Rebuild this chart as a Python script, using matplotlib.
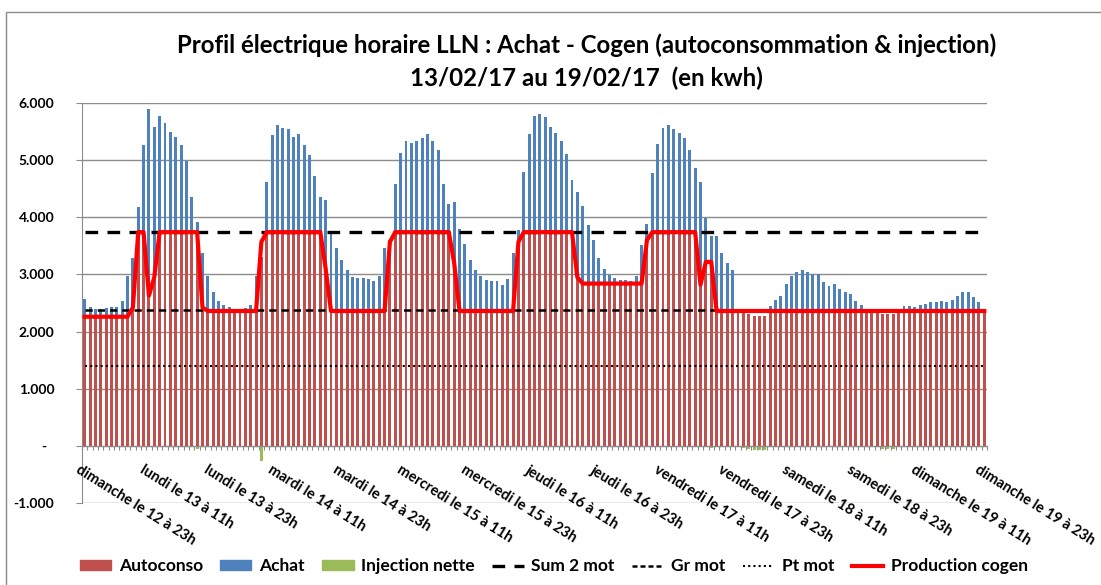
import matplotlib
matplotlib.use("Agg")
import matplotlib.pyplot as plt
from matplotlib.patches import Patch, Rectangle
from matplotlib.lines import Line2D

plt.rcParams["font.family"] = ["Lato", "DejaVu Sans"]

# hourly categories: dimanche 12 23h -> dimanche 19 23h (169 hours)
HOURS = list(range(169))
TICK_LABELS = [
    "dimanche le 12 à 23h", "lundi le 13 à 11h", "lundi le 13 à 23h",
    "mardi le 14 à 11h", "mardi le 14 à 23h", "mercredi le 15 à 11h",
    "mercredi le 15 à 23h", "jeudi le 16 à 11h", "jeudi le 16 à 23h",
    "vendredi le 17 à 11h", "vendredi le 17 à 23h", "samedi le 18 à 11h",
    "samedi le 18 à 23h", "dimanche le 19 à 11h", "dimanche le 19 à 23h",
]
YTICK_LABELS = ["-1.000", "-\u2002", "1.000", "2.000", "3.000", "4.000", "5.000", "6.000"]

AUTOCONSO = [
    2.26, 2.26, 2.26, 2.26, 2.26, 2.26, 2.26, 2.26, 2.26, 2.42, 3.74, 3.74,
    2.63, 2.95, 3.74, 3.74, 3.74, 3.74, 3.74, 3.74, 3.74, 3.74, 2.42, 2.36,
    2.36, 2.36, 2.36, 2.36, 2.36, 2.36, 2.36, 2.36, 2.36, 3.30, 3.74, 3.74,
    3.74, 3.74, 3.74, 3.74, 3.74, 3.74, 3.74, 3.74, 3.74, 3.10, 2.36, 2.36,
    2.36, 2.36, 2.36, 2.36, 2.36, 2.36, 2.36, 2.36, 2.36, 3.57, 3.74, 3.74,
    3.74, 3.74, 3.74, 3.74, 3.74, 3.74, 3.74, 3.74, 3.74, 3.20, 2.36, 2.36,
    2.36, 2.36, 2.36, 2.36, 2.36, 2.36, 2.36, 2.36, 2.36, 3.57, 3.74, 3.74,
    3.74, 3.74, 3.74, 3.74, 3.74, 3.74, 3.74, 3.74, 2.95, 2.84, 2.84, 2.84,
    2.84, 2.84, 2.84, 2.84, 2.84, 2.84, 2.84, 2.84, 2.84, 3.60, 3.74, 3.74,
    3.74, 3.74, 3.74, 3.74, 3.74, 3.74, 3.74, 2.82, 3.22, 3.22, 2.36, 2.36,
    2.36, 2.36, 2.36, 2.33, 2.30, 2.28, 2.28, 2.28, 2.36, 2.36, 2.36, 2.36,
    2.36, 2.36, 2.36, 2.36, 2.36, 2.36, 2.36, 2.36, 2.36, 2.36, 2.36, 2.36,
    2.36, 2.36, 2.36, 2.35, 2.34, 2.30, 2.30, 2.30, 2.36, 2.36, 2.36, 2.36,
    2.36, 2.36, 2.36, 2.36, 2.36, 2.36, 2.36, 2.36, 2.36, 2.36, 2.36, 2.36,
    2.36,
]
ACHAT = [
    0.31, 0.17, 0.14, 0.14, 0.15, 0.17, 0.17, 0.27, 0.71, 0.86, 0.44, 1.53,
    3.26, 2.63, 2.03, 1.91, 1.75, 1.66, 1.53, 1.25, 0.61, 0.18, 0.95, 0.61,
    0.34, 0.18, 0.11, 0.07, 0.04, 0.04, 0.05, 0.11, 0.61, 0.00, 0.87, 1.70,
    1.88, 1.82, 1.81, 1.67, 1.72, 1.53, 1.35, 0.98, 0.62, 1.20, 1.36, 1.11,
    0.89, 0.71, 0.59, 0.58, 0.58, 0.56, 0.52, 0.61, 1.10, 0.03, 0.84, 1.39,
    1.60, 1.56, 1.60, 1.64, 1.72, 1.59, 1.44, 0.84, 0.50, 1.06, 1.44, 1.17,
    0.89, 0.72, 0.61, 0.55, 0.52, 0.52, 0.46, 0.56, 1.02, 0.20, 1.05, 1.72,
    2.03, 2.07, 2.01, 1.84, 1.73, 1.60, 1.36, 0.92, 1.50, 1.36, 1.03, 0.77,
    0.45, 0.26, 0.15, 0.10, 0.06, 0.06, 0.04, 0.13, 0.68, 0.29, 1.04, 1.55,
    1.82, 1.87, 1.80, 1.74, 1.64, 1.44, 1.12, 1.79, 0.77, 0.45, 1.31, 1.02,
    0.84, 0.71, 0.04, 0.00, 0.00, 0.00, 0.00, 0.00, 0.08, 0.19, 0.27, 0.47,
    0.61, 0.69, 0.71, 0.68, 0.65, 0.64, 0.51, 0.43, 0.47, 0.39, 0.34, 0.29,
    0.17, 0.10, 0.04, 0.00, 0.00, 0.00, 0.00, 0.00, 0.04, 0.08, 0.09, 0.07,
    0.10, 0.13, 0.15, 0.15, 0.17, 0.15, 0.20, 0.26, 0.33, 0.33, 0.25, 0.16,
    0.04,
]
INJECTION = [
    0, 0, 0, 0, 0, 0, 0, 0, 0, 0, 0, 0,
    0, 0, 0, 0, 0, 0, 0, 0, 0, -0.06, 0, 0,
    0, 0, 0, 0, 0, 0, 0, 0, 0, -0.27, 0, 0,
    0, 0, 0, 0, 0, 0, 0, 0, 0, 0, 0, 0,
    0, 0, 0, 0, 0, 0, 0, 0, 0, 0, 0, 0,
    0, 0, 0, 0, 0, 0, 0, 0, 0, 0, 0, 0,
    0, 0, 0, 0, 0, 0, 0, 0, 0, 0, 0, 0,
    0, 0, 0, 0, 0, 0, 0, 0, 0, 0, 0, 0,
    0, 0, 0, 0, 0, 0, 0, 0, 0, 0, 0, 0,
    0, 0, 0, 0, 0, 0, 0, 0, 0, -0.03, 0, 0,
    0, 0, 0, -0.03, -0.06, -0.08, -0.08, -0.08, 0, 0, 0, 0,
    0, 0, 0, 0, 0, 0, 0, 0, 0, 0, 0, 0,
    0, 0, 0, -0.01, -0.02, -0.06, -0.06, -0.06, 0, 0, 0, 0,
    0, 0, 0, 0, 0, 0, 0, 0, 0, 0, 0, 0,
    0,
]
PRODUCTION_COGEN = [
    2.26, 2.26, 2.26, 2.26, 2.26, 2.26, 2.26, 2.26, 2.26, 2.42, 3.74, 3.74,
    2.63, 2.95, 3.74, 3.74, 3.74, 3.74, 3.74, 3.74, 3.74, 3.74, 2.42, 2.36,
    2.36, 2.36, 2.36, 2.36, 2.36, 2.36, 2.36, 2.36, 2.36, 3.57, 3.74, 3.74,
    3.74, 3.74, 3.74, 3.74, 3.74, 3.74, 3.74, 3.74, 3.74, 3.10, 2.36, 2.36,
    2.36, 2.36, 2.36, 2.36, 2.36, 2.36, 2.36, 2.36, 2.36, 3.57, 3.74, 3.74,
    3.74, 3.74, 3.74, 3.74, 3.74, 3.74, 3.74, 3.74, 3.74, 3.20, 2.36, 2.36,
    2.36, 2.36, 2.36, 2.36, 2.36, 2.36, 2.36, 2.36, 2.36, 3.57, 3.74, 3.74,
    3.74, 3.74, 3.74, 3.74, 3.74, 3.74, 3.74, 3.74, 2.95, 2.84, 2.84, 2.84,
    2.84, 2.84, 2.84, 2.84, 2.84, 2.84, 2.84, 2.84, 2.84, 3.60, 3.74, 3.74,
    3.74, 3.74, 3.74, 3.74, 3.74, 3.74, 3.74, 2.82, 3.22, 3.22, 2.36, 2.36,
    2.36, 2.36, 2.36, 2.36, 2.36, 2.36, 2.36, 2.36, 2.36, 2.36, 2.36, 2.36,
    2.36, 2.36, 2.36, 2.36, 2.36, 2.36, 2.36, 2.36, 2.36, 2.36, 2.36, 2.36,
    2.36, 2.36, 2.36, 2.36, 2.36, 2.36, 2.36, 2.36, 2.36, 2.36, 2.36, 2.36,
    2.36, 2.36, 2.36, 2.36, 2.36, 2.36, 2.36, 2.36, 2.36, 2.36, 2.36, 2.36,
    2.36,
]
SUM_2_MOT = 3.735
GR_MOT = 2.37
PT_MOT = 1.40

RED, BLUE, GREEN = "#C0504D", "#4F81BD", "#9BBB59"
GRID = "#8C8C8C"

fig = plt.figure(figsize=(11.01, 5.85), dpi=100)
ax = fig.add_axes([82 / 1101, 1 - 503 / 585, 905 / 1101, 400 / 585])

ax.bar(HOURS, AUTOCONSO, width=0.55, color=RED, zorder=2)
ax.bar(HOURS, ACHAT, width=0.55, bottom=AUTOCONSO, color=BLUE, zorder=2)
ax.bar(HOURS, INJECTION, width=0.55, color=GREEN, zorder=2)

n = len(HOURS)
ax.plot(HOURS, [SUM_2_MOT] * n, color="black", lw=2.4, ls=(0, (3.8, 2.8)), zorder=3)
ax.plot(HOURS, [GR_MOT] * n, color="black", lw=1.8, ls=(0, (2.9, 2.0)), zorder=3)
ax.plot(HOURS, [PT_MOT] * n, color="black", lw=1.5, ls=(0, (1, 1.5)), zorder=3)
ax.plot(HOURS, PRODUCTION_COGEN, color="#FF0000", lw=3, zorder=4, solid_joinstyle="round")

ax.set_xlim(-0.5, n - 0.5)
ax.set_ylim(-1, 6)
ax.set_yticks(range(-1, 7))
ax.set_yticklabels(YTICK_LABELS, fontsize=10, fontweight="bold")
ax.yaxis.grid(True, color=GRID, lw=1)
ax.set_axisbelow(True)

for s in ("top", "right"):
    ax.spines[s].set_visible(False)
ax.spines["left"].set_color(GRID)
ax.spines["bottom"].set_position(("data", 0))
ax.spines["bottom"].set_color(GRID)
ax.set_xticks([h - 0.5 for h in HOURS] + [n - 0.5])
ax.set_xticklabels([])
ax.tick_params(axis="x", length=3, color=GRID)
ax.tick_params(axis="y", length=4, color=GRID, pad=16)

for k, lab in enumerate(TICK_LABELS):
    ax.text(12 * k - 0.8, -0.3, lab, rotation=-32, rotation_mode="anchor",
            ha="left", va="top", fontsize=10.5, fontweight="bold", clip_on=False)

fig.text(0.533, 0.923, "Profil électrique horaire LLN : Achat - Cogen (autoconsommation & injection)",
         ha="center", va="center", fontsize=17.3, fontweight="bold")
fig.text(0.533, 0.866, "13/02/17 au 19/02/17  (en kwh)",
         ha="center", va="center", fontsize=17.3, fontweight="bold")

handles = [
    Patch(color=RED), Patch(color=BLUE), Patch(color=GREEN),
    Line2D([], [], color="black", lw=2.4, ls=(0, (3.8, 2.8))),
    Line2D([], [], color="black", lw=1.8, ls=(0, (2.0, 1.2))),
    Line2D([], [], color="black", lw=1.5, ls=(0, (1, 1.5))),
    Line2D([], [], color="#FF0000", lw=3),
]
labels = ["Autoconso", "Achat", "Injection nette", "Sum 2 mot", "Gr mot", "Pt mot", "Production cogen"]
fig.legend(handles, labels, loc="center", bbox_to_anchor=(0.503, 0.032), ncol=7, frameon=False,
           prop={"size": 12.5, "weight": "bold"}, handlelength=1.8, handleheight=0.55,
           handletextpad=0.45, columnspacing=1.0)

fig.add_artist(Rectangle((6 / 1101, -0.01), 1.1, 1 - 12 / 585 + 0.01, transform=fig.transFigure,
                         fill=False, edgecolor="#8A8A8A", lw=1))

fig.savefig("out.png", dpi=100)
